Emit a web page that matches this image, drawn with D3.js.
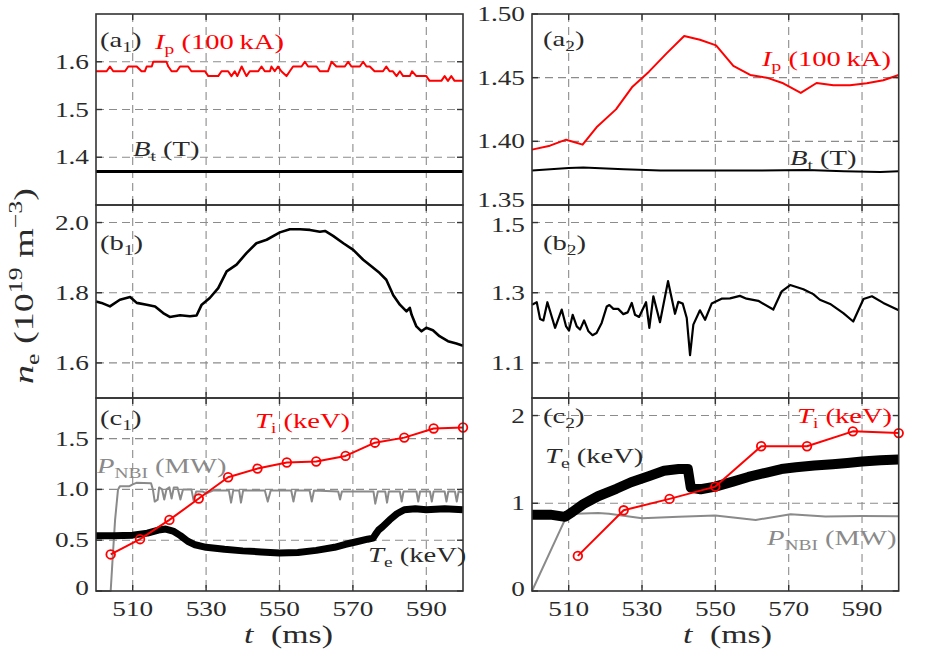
<!DOCTYPE html>
<html><head><meta charset="utf-8">
<script src="https://cdn.jsdelivr.net/npm/d3@7"></script>
<style>
body{margin:0;background:#fff}
svg{display:block}
text{font-family:"Liberation Serif","Times New Roman",serif;fill:#2a2a2a}
</style>
</head><body>
<svg id="c" width="925" height="661"></svg>
<script>
// ---------- data ----------
const xTicks = [510, 530, 550, 570, 590];

// (a1) plasma current Ip (100 kA) and toroidal field Bt (T)
const ipA1T = [500,502.9,503.8,504.7,507.9,508.8,511.1,512.4,513.3,513.8,515.2,515.6,519.2,519.7,520.6,522,522.9,525.1,526,529.7,530.6,533.3,534.2,536,536.9,537.8,538.5,539.7,541,541.9,544.2,545.1,546,547.4,547.8,548.7,549.6,550.5,551.9,552.8,553.7,556,556.9,557.8,560.1,561,563.2,564.2,565.5,567.8,568.7,569.6,571.9,572.8,573.7,574.6,575.9,578.2,579.1,580,580.9,581.9,582.8,583.7,585.5,586.1,587.3,590,590.9,594.1,595,595.9,596.8,597.7,600];
const ipA1  = [1.58,1.58,1.59,1.58,1.58,1.59,1.59,1.58,1.58,1.59,1.59,1.60,1.60,1.59,1.58,1.58,1.59,1.59,1.58,1.58,1.57,1.57,1.58,1.58,1.57,1.58,1.57,1.59,1.57,1.58,1.58,1.59,1.58,1.58,1.59,1.58,1.59,1.58,1.57,1.58,1.59,1.59,1.60,1.59,1.59,1.58,1.58,1.60,1.59,1.59,1.60,1.59,1.59,1.60,1.59,1.59,1.58,1.58,1.59,1.58,1.58,1.57,1.58,1.57,1.57,1.58,1.57,1.57,1.56,1.56,1.57,1.56,1.57,1.56,1.56];
const btA1T = [500, 520, 540, 560, 580, 600];
const btA1  = [1.37, 1.37, 1.37, 1.37, 1.37, 1.37];

// (a2)
const ipA2T = [500,504.9,509.3,513.8,517.6,522.9,527.4,531.9,536.7,541.5,545.8,550.2,554.9,559.5,564,568.5,573.3,577.6,582.2,586.7,591.3,595.8,600];
const ipA2  = [1.3935,1.3966,1.4013,1.3974,1.411,1.4251,1.4429,1.4547,1.4691,1.4827,1.4798,1.4754,1.4592,1.4521,1.4500,1.4456,1.4380,1.4458,1.4440,1.4440,1.4456,1.4480,1.4521];
const btA2T = [500,510,514,525,535,560,575,585,595,600];
const btA2  = [1.377,1.379,1.3795,1.378,1.377,1.377,1.3775,1.3765,1.376,1.3765];

// (b1) line-averaged density
const neB1T = [500,501.5,503.8,506.5,509.3,511.1,513.8,516.1,518.3,520.1,522.9,525.6,527.4,528.8,531,533.3,535.6,538.3,541,543.7,546.5,550.1,552.8,555.6,558.3,561,562.4,564.6,567.4,570.1,572.8,574.6,577.3,579.1,581,582.8,584.6,585.5,586,587.3,588.7,590,591.8,593.6,595.9,598.2,600];
const neB1  = [1.775,1.771,1.761,1.780,1.788,1.771,1.766,1.761,1.742,1.731,1.736,1.733,1.735,1.766,1.785,1.813,1.861,1.880,1.913,1.941,1.951,1.972,1.981,1.981,1.979,1.974,1.976,1.962,1.941,1.922,1.894,1.879,1.856,1.837,1.793,1.766,1.747,1.757,1.737,1.704,1.690,1.700,1.693,1.676,1.662,1.655,1.649];

// (b2)
const neB2T = [500,501.3,502.2,503.1,504.2,506.3,508.1,509.3,510.1,511.1,512.2,513.1,514.2,515.4,516.5,517.6,519,520.4,521.1,522.2,523.5,524.9,526.1,527.2,528.1,529.2,531.1,532,533.1,534.9,537.1,539,539.9,541.1,542.2,543.1,544,545.8,547.2,549,551.7,554,556.7,558.5,561.7,565.8,568.1,570.4,574,576.7,578.5,581.3,584.9,587.6,590.4,592.7,595.8,600];
const neB2  = [1.266,1.273,1.225,1.221,1.273,1.200,1.252,1.204,1.192,1.237,1.204,1.195,1.221,1.190,1.179,1.185,1.214,1.261,1.265,1.254,1.254,1.239,1.244,1.271,1.237,1.231,1.273,1.200,1.290,1.216,1.333,1.240,1.274,1.269,1.228,1.122,1.209,1.250,1.223,1.269,1.283,1.284,1.291,1.283,1.277,1.252,1.304,1.322,1.310,1.296,1.280,1.268,1.242,1.218,1.282,1.290,1.271,1.250];

// (c1) Ti, Te (keV), PNBI (MW)
const tiC1T = [504,512,520,528,536,544,552,560,568,576,584,592,600];
const tiC1  = [0.36,0.51,0.70,0.91,1.12,1.205,1.265,1.275,1.33,1.46,1.51,1.60,1.61];
const teC1T = [500,505,510,514,517,519,521,523,525,527,530,535,540,545,550,555,560,565,568,571,574,575.5,576.2,577,578,580,582,584,587,590,595,600];
const teC1  = [0.545,0.545,0.55,0.57,0.60,0.61,0.59,0.545,0.49,0.455,0.43,0.41,0.395,0.385,0.375,0.38,0.40,0.43,0.46,0.485,0.51,0.52,0.56,0.60,0.63,0.70,0.76,0.80,0.81,0.80,0.81,0.80];
const pC1T = [500,504,504.5,505.2,506,506.5,509,510,511,515,515.5,516,516.8,517.2,518,518.6,519.2,520,520.6,521.2,522.2,523,523.7,526,526.6,527.3,529,530,532,536.2,536.8,537.4,539,539.5,540.1,546,546.8,547.6,553.2,553.8,554.4,558.2,558.8,559.4,566,566.5,567,575.6,576.1,576.8,578.8,579.3,579.8,582.8,583.3,583.8,587.3,587.8,588.3,591,591.5,592,595,595.5,596,597.8,598.3,598.8,600];
const pC1  = [0,0,0.3,0.7,1.0,1.03,1.03,1.05,1.065,1.06,1.0,0.88,0.9,1.02,1.0,0.9,1.0,1.02,0.91,1.02,1.02,0.9,1.0,1.0,0.89,0.98,0.98,0.96,0.99,0.99,0.87,0.99,0.99,0.87,0.99,0.99,0.88,0.99,0.99,0.88,0.99,0.99,0.88,0.99,0.98,0.9,0.98,0.98,0.86,0.98,0.98,0.87,0.98,0.98,0.88,0.98,0.98,0.88,0.98,0.98,0.88,0.98,0.98,0.88,0.98,0.98,0.88,0.98,0.97];

// (c2)
const tiC2T = [512.5,525,537.5,550,562.5,575,587.5,600];
const tiC2  = [0.40,0.92,1.05,1.19,1.65,1.65,1.82,1.80];
const teC2T = [500,505,509,511,514,518,523,527,532,536,540,542.5,543.3,546,550,555,559,564,568,572,577,582,586,590,595,600];
const teC2  = [0.87,0.87,0.845,0.90,0.99,1.08,1.165,1.24,1.31,1.37,1.39,1.39,1.18,1.16,1.19,1.25,1.30,1.35,1.39,1.41,1.43,1.445,1.46,1.475,1.49,1.50];
const pC2T = [500,509.5,512,518,521,530,540,550,561,570.5,580,590,600];
const pC2  = [0,0.86,0.88,0.89,0.88,0.83,0.845,0.86,0.81,0.875,0.85,0.855,0.853];

// ---------- layout ----------
const svg = d3.select("#c");
const cols = [[96, 463], [532, 898.7]];
const rows = [[14, 205], [205, 398], [398, 591]];
const RED = "#ff0000", GRAY = "#8a8a8a", INK = "#2a2a2a";

const gGrid = svg.append("g"), gData = svg.append("g"), gFrame = svg.append("g"), gText = svg.append("g");

function panel(ci, ri, domain, yTicks, fmt, showX, labelShift) {
  const [x0, x1] = cols[ci], [yt, yb] = rows[ri];
  const x = d3.scaleLinear().domain([500, 600]).range([x0, x1]);
  const y = d3.scaleLinear().domain(domain).range([yb, yt]);
  xTicks.forEach(t => gGrid.append("line").attr("x1", x(t)).attr("x2", x(t)).attr("y1", yt).attr("y2", yb)
    .attr("stroke", "#8c8c8c").attr("stroke-width", 1.1).attr("stroke-dasharray", "8,5"));
  yTicks.forEach(v => {
    const yy = y(v);
    if (yy > yt + 1 && yy < yb - 1)
      gGrid.append("line").attr("x1", x0).attr("x2", x1).attr("y1", yy).attr("y2", yy)
        .attr("stroke", "#8c8c8c").attr("stroke-width", 1.1).attr("stroke-dasharray", "8,5");
  });
  gFrame.append("rect").attr("x", x0).attr("y", yt).attr("width", x1 - x0).attr("height", yb - yt)
    .attr("fill", "none").attr("stroke", "#333").attr("stroke-width", 1.6);
  xTicks.forEach(t => {
    gFrame.append("line").attr("x1", x(t)).attr("x2", x(t)).attr("y1", yb).attr("y2", yb - 6).attr("stroke", "#333").attr("stroke-width", 1.4);
    gFrame.append("line").attr("x1", x(t)).attr("x2", x(t)).attr("y1", yt).attr("y2", yt + 6).attr("stroke", "#333").attr("stroke-width", 1.4);
  });
  yTicks.forEach((v, i) => {
    const yy = y(v);
    gFrame.append("line").attr("x1", x0).attr("x2", x0 + 6).attr("y1", yy).attr("y2", yy).attr("stroke", "#333").attr("stroke-width", 1.4);
    gFrame.append("line").attr("x1", x1).attr("x2", x1 - 6).attr("y1", yy).attr("y2", yy).attr("stroke", "#333").attr("stroke-width", 1.4);
    const dy = (labelShift && labelShift[i]) || 0;
    gText.append("text").attr("transform", `translate(${x0 - 7},${yy + 7 + dy}) scale(1.3,1)`)
      .attr("text-anchor", "end").attr("font-size", 21).text(fmt(v));
  });
  if (showX) {
    xTicks.forEach(t => gText.append("text").attr("transform", `translate(${x(t)},616) scale(1.3,1)`)
      .attr("text-anchor", "middle").attr("font-size", 21).text(t));
  }
  return {x, y};
}

function line(p, T, V, color, w) {
  gData.append("path").datum(T.map((t, i) => [t, V[i]]))
    .attr("d", d3.line().x(d => p.x(d[0])).y(d => p.y(d[1])))
    .attr("fill", "none").attr("stroke", color).attr("stroke-width", w)
    .attr("stroke-linejoin", "round").attr("stroke-linecap", "butt");
}
function markers(p, T, V) {
  gData.selectAll(null).data(T.map((t, i) => [t, V[i]])).enter().append("circle")
    .attr("cx", d => p.x(d[0])).attr("cy", d => p.y(d[1])).attr("r", 4.3)
    .attr("fill", "none").attr("stroke", RED).attr("stroke-width", 1.8);
}
function label(x, y, parts, color, size, anchor) {
  const t = gText.append("text").attr("transform", `translate(${x},${y}) scale(1.3,1)`)
    .attr("font-size", size || 22).style("fill", color || INK).attr("text-anchor", anchor || "start");
  let shift = 0;
  parts.forEach(p => {
    const target = p.sub ? 5 : (p.sup ? -8 : 0);
    const ts = t.append("tspan").text(p.t).attr("dy", target - shift);
    shift = target;
    if (p.sub || p.sup) ts.attr("font-size", (size || 22) * 0.68);
    if (p.i) ts.attr("font-style", "italic");
  });
  return t;
}

const f1 = d3.format(".1f"), f2 = d3.format(".2f");
const a1 = panel(0, 0, [1.3, 1.7], [1.4, 1.5, 1.6], f1, false);
const a2 = panel(1, 0, [1.35, 1.50], [1.35, 1.40, 1.45, 1.50], f2, false, [-5, 0, 0, 0]);
const b1 = panel(0, 1, [1.5, 2.05], [1.6, 1.8, 2.0], f1, false);
const b2 = panel(1, 1, [1.0, 1.55], [1.1, 1.3, 1.5], f1, false, [0, 0, 2]);
const c1 = panel(0, 2, [0, 1.9], [0, 0.5, 1.0, 1.5], v => v === 0 ? "0" : f1(v), true, [-3, 0, 0, 0]);
const c2 = panel(1, 2, [0, 2.2], [0, 1, 2], d3.format("d"), true, [-2, 0, 0]);

line(a1, btA1T, btA1, "#000", 3);
line(a1, ipA1T, ipA1, RED, 2);
line(a2, btA2T, btA2, "#000", 2);
line(a2, ipA2T, ipA2, RED, 2);
line(b1, neB1T, neB1, "#000", 2.6);
line(b2, neB2T, neB2, "#000", 2.2);
line(c1, pC1T, pC1, GRAY, 2);
line(c1, teC1T, teC1, "#000", 7);
line(c1, tiC1T, tiC1, RED, 2);
markers(c1, tiC1T, tiC1);
line(c2, pC2T, pC2, GRAY, 2);
line(c2, teC2T, teC2, "#000", 10);
line(c2, tiC2T, tiC2, RED, 2);
markers(c2, tiC2T, tiC2);

label(100, 47, [{t:"(a"},{t:"1",sub:1},{t:")"}]);
label(155, 49, [{t:"I",i:1},{t:"p",sub:1},{t:" (100\u2009kA)"}], RED);
label(133, 156, [{t:"B",i:1},{t:"t",sub:1},{t:" (T)"}]);
label(543, 46, [{t:"(a"},{t:"2",sub:1},{t:")"}]);
label(762, 66, [{t:"I",i:1},{t:"p",sub:1},{t:" (100\u2009kA)"}], RED);
label(790, 165, [{t:"B",i:1},{t:"t",sub:1},{t:" (T)"}]);
label(100, 250, [{t:"(b"},{t:"1",sub:1},{t:")"}]);
label(543, 250, [{t:"(b"},{t:"2",sub:1},{t:")"}]);
label(100, 425, [{t:"(c"},{t:"1",sub:1},{t:")"}]);
label(255, 428, [{t:"T",i:1},{t:"i",sub:1},{t:" (keV)"}], RED);
label(97, 473, [{t:"P",i:1},{t:"NBI",sub:1},{t:" (MW)"}], GRAY);
label(368, 562, [{t:"T",i:1},{t:"e",sub:1},{t:" (keV)"}]);
label(543, 423, [{t:"(c"},{t:"2",sub:1},{t:")"}]);
label(797, 423, [{t:"T",i:1},{t:"i",sub:1},{t:" (keV)"}], RED);
label(545, 463, [{t:"T",i:1},{t:"e",sub:1},{t:" (keV)"}]);
label(767, 545, [{t:"P",i:1},{t:"NBI",sub:1},{t:" (MW)"}], GRAY);

[[244, 271], [683, 710]].forEach(([xt, xm]) => {
  label(xt, 643, [{t:"t",i:1}], INK, 26);
  label(xm, 643, [{t:"(ms)"}], INK, 26);
});
const yl = gText.append("text").attr("transform", "translate(33,286) rotate(-90)")
  .attr("text-anchor", "middle").attr("font-size", 28)
  .attr("textLength", 196).attr("lengthAdjust", "spacingAndGlyphs");
yl.append("tspan").text("n").attr("font-style", "italic");
yl.append("tspan").text("e").attr("font-size", 19).attr("dy", 6);
yl.append("tspan").text(" (10").attr("dy", -6);
yl.append("tspan").text("19").attr("font-size", 19).attr("dy", -11);
yl.append("tspan").text(" m").attr("dy", 11);
yl.append("tspan").text("\u22123").attr("font-size", 19).attr("dy", -11);
yl.append("tspan").text(")").attr("dy", 11);
</script>
</body></html>
